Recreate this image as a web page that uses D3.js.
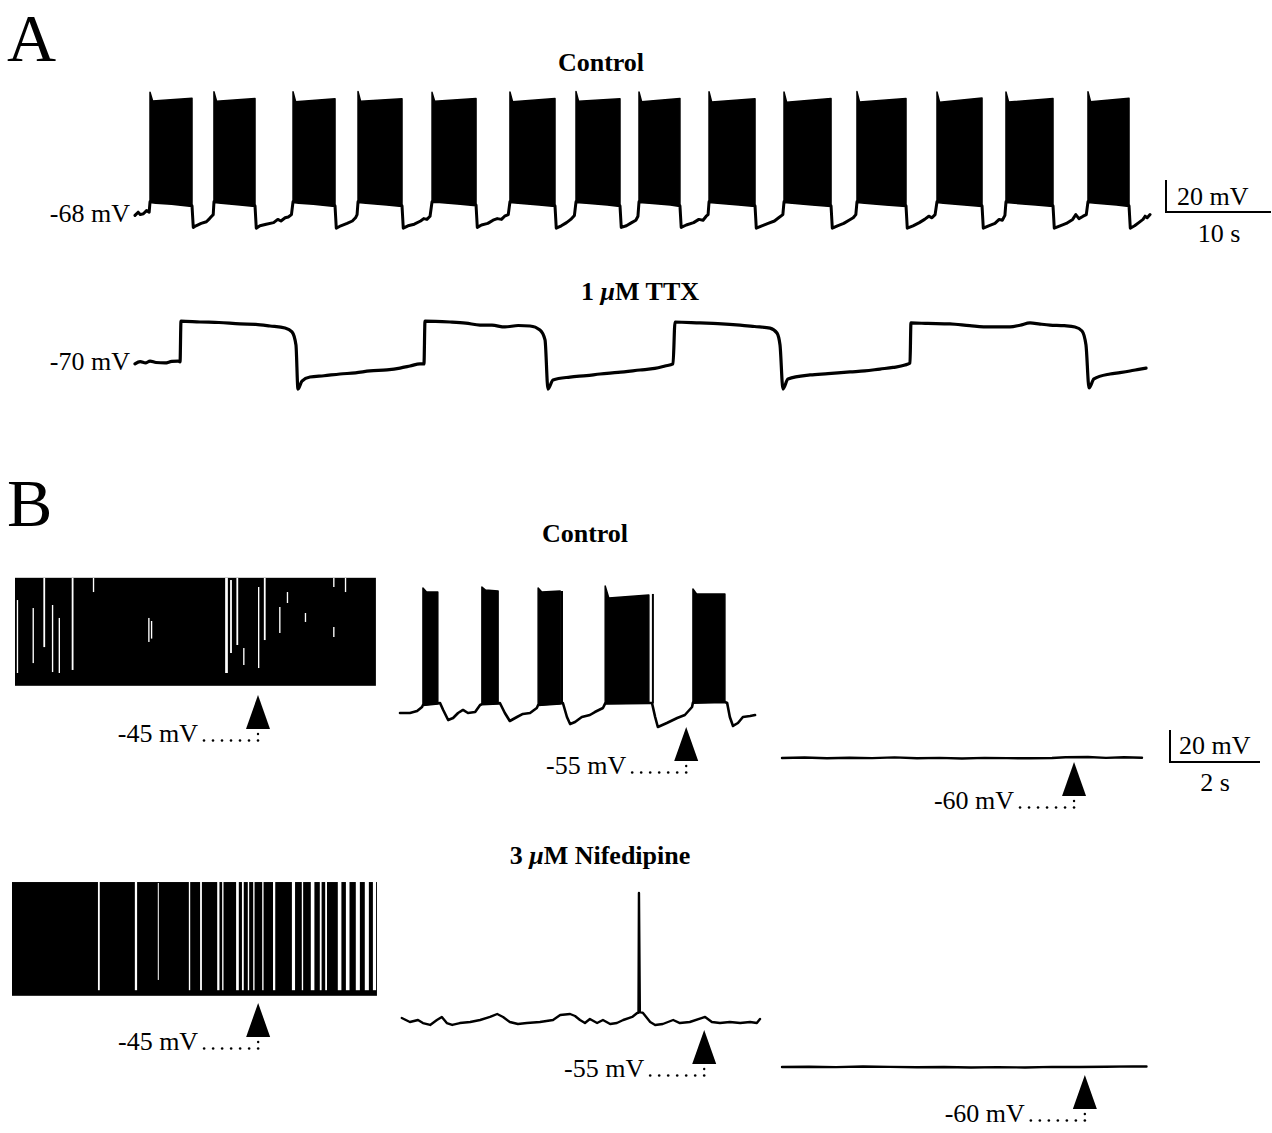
<!DOCTYPE html>
<html lang="en">
<head>
<meta charset="utf-8">
<title>Bursting traces</title>
<script src="https://d3js.org/d3.v7.min.js"></script>
<style>
  body { margin: 0; background: #fff; }
  text { font-family: "Liberation Serif", "Times New Roman", serif; fill: #000; }
</style>
</head>
<body>
<script>
// ---------- Panel A (time in s, membrane potential in mV) ----------
// bursts: [start, end, first spike peak, top after peak, top at end]
const ctrlA_bursts = [
  [1.43, 5.43, 7.5, 2.0, 3.7], [7.52, 11.43, 7.8, 1.8, 3.5], [15.05, 19.05, 7.8, 1.6, 3.4],
  [21.24, 25.43, 7.9, 1.8, 3.4], [28.29, 32.48, 7.4, 1.9, 3.6], [35.71, 40.0, 7.6, 1.6, 3.5],
  [42.0, 46.19, 7.9, 1.8, 3.4], [48.0, 51.9, 7.6, 1.5, 3.6], [54.67, 59.05, 7.8, 1.4, 3.4],
  [61.81, 66.29, 7.7, 1.2, 3.5], [68.76, 73.43, 7.9, 1.3, 3.6], [76.38, 80.67, 7.6, 1.2, 3.8],
  [82.95, 87.43, 7.7, 1.4, 3.5], [90.76, 94.67, 7.8, 1.6, 3.7]
];
// slow membrane potential (burst floor and interburst trough)
const ctrlA_trace = [
  [0,-69.5],[0.3,-67.5],[0.5,-69],[0.8,-68.5],[1.1,-66.5],[1.35,-67.5],[1.43,-61],
  [2.0,-61.5],[3.5,-62],[5.43,-63.5],[5.55,-77],[5.8,-76],[6.3,-74.5],[6.8,-73.5],[7.1,-71.5],[7.3,-70],[7.45,-69],[7.52,-61],
  [8.2,-61.5],[10,-62.5],[11.43,-63.5],[11.55,-77.5],[11.9,-76],[12.5,-75],[13.2,-74],[13.6,-72],[13.9,-73],[14.3,-71],[14.6,-70.5],[14.9,-69],[15.05,-61],
  [15.6,-61.5],[17,-62],[19.05,-63.5],[19.17,-77.5],[19.6,-76],[20.2,-74.5],[20.7,-73],[21.0,-71],[21.15,-69],[21.24,-61],
  [22,-61.5],[24,-62.5],[25.43,-63.5],[25.55,-77.5],[26,-76],[26.6,-75],[27.2,-73],[27.5,-71.5],[27.8,-72],[28.1,-70],[28.29,-61],
  [29,-61],[31,-62],[32.48,-63],[32.6,-77],[33,-75.5],[33.6,-74.5],[34.1,-72.5],[34.5,-71.5],[34.9,-72],[35.2,-70],[35.55,-69],[35.71,-61],
  [36.5,-61.5],[38.5,-62.5],[40.0,-63.5],[40.12,-77.5],[40.6,-76],[41.1,-74],[41.5,-72],[41.85,-69.5],[42.0,-61],
  [43,-61.5],[45,-62.5],[46.19,-63.5],[46.31,-77],[46.8,-76],[47.3,-74],[47.7,-72.5],[47.9,-70],[48.0,-61],
  [49,-61.5],[51,-62.5],[51.9,-63.5],[52.02,-77],[52.5,-75.5],[53.2,-74],[53.7,-72],[54.1,-72.5],[54.4,-70],[54.58,-69],[54.67,-61],
  [55.5,-61.5],[57.5,-62.5],[59.05,-63.5],[59.17,-77.5],[59.7,-76],[60.3,-74.5],[60.9,-73],[61.3,-71],[61.7,-69],[61.81,-61],
  [62.6,-61.5],[64.5,-62.5],[66.29,-63.5],[66.41,-77.5],[66.9,-76],[67.5,-74.5],[68,-72.5],[68.4,-71],[68.65,-69],[68.76,-61],
  [69.5,-61.5],[71.5,-62.5],[73.43,-63.5],[73.55,-77.5],[74.1,-76],[74.7,-74],[75.2,-72],[75.6,-70],[75.9,-71],[76.2,-69],[76.38,-61],
  [77,-61.5],[79,-62.5],[80.67,-63.5],[80.79,-77.5],[81.3,-76],[81.9,-74.5],[82.3,-72],[82.6,-72.5],[82.85,-69.5],[82.95,-61],
  [83.8,-61.5],[85.8,-62.5],[87.43,-63.5],[87.55,-77.5],[88.1,-76],[88.7,-74.5],[89.3,-72],[89.6,-69],[89.9,-71.5],[90.3,-70],[90.6,-69],[90.76,-61],
  [91.5,-61.5],[93.5,-62.5],[94.67,-63.5],[94.79,-77.5],[95.2,-76],[95.6,-74],[96.0,-72],[96.2,-70],[96.4,-71],[96.67,-69]
];
const ttx_trace = [
  [0,-71.2],[0.5,-69.8],[1.0,-70.6],[1.43,-69.4],[2.0,-70.3],[2.86,-70.6],[3.5,-69.6],[4.1,-69.4],[4.29,-70],
  [4.38,-44.4],[6.19,-45],[8,-45.3],[10,-46.2],[11.5,-46.5],[12.86,-47.5],[14.29,-48.8],[14.95,-51.2],[15.33,-59.4],
  [15.52,-86.9],[15.9,-81.9],[16.67,-79.4],[18,-78.6],[19.52,-77.5],[21,-76.8],[22.38,-75.6],[24,-74.9],[25.24,-73.8],[26.2,-72.5],[27.14,-71.2],[27.52,-71.2],
  [27.62,-44.4],[30,-45],[31.5,-45.7],[32.86,-46.9],[34,-47],[35.24,-48.1],[36.5,-47.2],[37.62,-47.5],[38.57,-50],[39.05,-56.2],
  [39.33,-86.9],[39.81,-81.2],[41.43,-79.4],[43,-78.5],[44.29,-77.5],[46,-76.5],[48.1,-75],[49.5,-74],[50.48,-72.5],[51.24,-71.2],
  [51.43,-45],[53.81,-45.6],[55.5,-46],[57.62,-46.9],[59,-47.8],[60.48,-48.8],[61.14,-51.9],[61.43,-59.4],
  [61.71,-86.9],[62.19,-80.6],[64.29,-78.1],[66,-77.3],[68.1,-76.2],[69.5,-75.6],[70.95,-74.4],[72.2,-73.4],[73.33,-71.9],[73.81,-70.6],
  [73.9,-45.6],[75.5,-45.9],[77.62,-46.2],[79.5,-47.3],[81.43,-48.1],[83.33,-48.1],[84.3,-47],[85.24,-45.6],[86.2,-46.3],[87.14,-46.9],[88.5,-47.3],[89.52,-48.1],[90.19,-50.6],[90.57,-59.4],
  [90.86,-86.2],[91.33,-80.6],[92.86,-77.5],[93.8,-76.6],[94.76,-75.6],[95.6,-74.6],[96.29,-73.8]
];

// ---------- Panel B ----------
// Control, left: continuous firing band [t start, t end], [bottom mV, top mV]
const ctrlBL_span = [0, 8.02];
const ctrlBL_band = [-45.5, 22];
// interspike gaps: [t, width s, upper mV, lower mV]
const ctrlBL_gaps = [
  [0.04,0.03,8.1,-37.5],[0.39,0.03,3.1,-31.3],[0.63,0.04,21.9,-21.3],[0.82,0.03,5,-36.9],
  [0.97,0.03,-3.1,-37.5],[1.26,0.04,21.9,-35.6],[1.73,0.03,21.9,13.1],[2.96,0.03,-3.1,-18.1],[3.02,0.03,-5,-16],
  [4.67,0.06,21.9,-37.5],[4.78,0.04,20.6,-25],[4.92,0.04,21.9,-20],[5.07,0.03,-21.9,-32.5],
  [5.4,0.03,16.25,-34.4],[5.53,0.04,21.9,-16.9],[5.87,0.03,3.75,-12.5],[6.04,0.03,13.1,6.25],
  [6.44,0.03,0,-5.6],[7.07,0.03,21.9,16.25],[7.07,0.03,-8.75,-15],[7.33,0.03,21.9,13.1]
];
// Control, middle
const ctrlBM_bursts = [
  [0.51,0.84,23.1,20.6,20.6],[1.82,2.18,23.75,21.9,21.25],[3.07,3.56,23.1,20.6,21.25],
  [4.56,5.53,24.4,16.9,18.75],[6.51,7.22,22.5,19.4,19.4]
];
const ctrlBM_spikes = [[3.6, 21.25], [5.62, 19.4]];
const ctrlBM_trace = [
  [0,-55],[0.22,-55],[0.38,-53.75],[0.49,-51.25],[0.51,-50],[0.84,-49],[0.89,-48.75],[0.96,-53.1],[1.07,-59.4],[1.18,-58.1],
  [1.29,-55],[1.4,-53.1],[1.51,-55],[1.67,-54.4],[1.78,-50],[1.82,-49.5],[2.18,-49],[2.22,-48.75],[2.33,-55],[2.44,-60],
  [2.6,-57.5],[2.73,-55.6],[2.89,-55],[3.04,-51.9],[3.07,-50],[3.56,-49],[3.62,-48.75],[3.71,-57.5],[3.78,-61.9],[3.89,-60.6],
  [4.04,-57.5],[4.22,-56.25],[4.33,-54.4],[4.51,-51.9],[4.56,-49],[5.53,-48.75],[5.6,-48.75],[5.67,-57.5],[5.73,-63.75],[5.93,-61.25],
  [6.16,-58.1],[6.33,-56.25],[6.49,-51.25],[6.51,-48.5],[7.22,-48.1],[7.27,-48.75],[7.33,-57.5],[7.4,-63.1],[7.51,-61.25],
  [7.62,-57.5],[7.78,-56.9],[7.89,-56.25]
];
// Control, right
const ctrlBR_trace = [
  [0,-60],[0.5,-59.7],[1,-60.2],[1.5,-59.8],[2,-60.1],[2.5,-59.6],[3,-60.2],[3.5,-59.9],[4,-60.3],
  [4.5,-59.9],[5,-60.1],[5.5,-60.2],[6,-60],[6.3,-59.5],[6.8,-59.4],[7.2,-59.9],[7.6,-59.5],[8,-59.8]
];
// Nifedipine, left
const nifBL_span = [0, 8.11];
const nifBL_band = [-45.5, 25.6];
const nifBL_gaps = [
  [1.91,0.04,26,-42],[2.73,0.05,26,-42],[3.24,0.02,25,-35.6],[3.93,0.03,26,-42],[4.18,0.04,26,-42],
  [4.56,0.05,26,-42],[4.67,0.03,26,-42],[4.98,0.06,26,-42],[5.11,0.04,26,-42],[5.24,0.03,26,-42],
  [5.36,0.03,26,-42],[5.56,0.03,26,-42],[5.8,0.05,26,-42],[6.22,0.07,26,-42],[6.44,0.03,26,-42],
  [6.64,0.08,26,-42],[6.84,0.04,26,-42],[6.96,0.04,26,-42],[7.24,0.08,26,-42],[7.42,0.08,26,-42],
  [7.64,0.09,26,-42],[7.84,0.09,26,-42],[8.02,0.07,26,-42]
];
// Nifedipine, middle (one spike)
const nifBM_trace = [
  [0.04,-53.75],[0.22,-56.25],[0.4,-55],[0.51,-56.9],[0.67,-58.1],[0.82,-55],[0.93,-53.1],[1.04,-56.9],[1.16,-58.1],
  [1.33,-56.9],[1.56,-56.25],[1.78,-55],[2.0,-53.1],[2.16,-51.25],[2.29,-53.1],[2.44,-56.25],[2.62,-57.5],[2.82,-56.9],
  [3.11,-56.25],[3.4,-55],[3.56,-51.9],[3.78,-51.25],[3.89,-52.5],[4.0,-55],[4.11,-56.9],[4.22,-54.4],[4.38,-56.9],
  [4.51,-55],[4.67,-57.5],[4.82,-56.9],[4.96,-55],[5.16,-53.1],[5.27,-50.6],[5.3,-50.5],[5.31,24.4],[5.33,-50],
  [5.4,-50.6],[5.56,-56.25],[5.67,-58.1],[5.84,-57.5],[6.07,-55],[6.22,-56.9],[6.44,-56.25],[6.78,-53.1],[6.93,-56.25],
  [7.11,-56.9],[7.33,-56.25],[7.56,-56.9],[7.78,-56.25],[7.93,-56.9],[8.0,-54.4]
];
// Nifedipine, right
const nifBR_trace = [
  [0,-60],[0.6,-59.8],[1.2,-60.1],[1.8,-59.7],[2.4,-59.9],[3,-60.2],[3.6,-60],[4.2,-60.3],
  [4.8,-60.1],[5.4,-60.3],[6,-59.9],[6.6,-60],[7.2,-59.8],[7.8,-59.6],[8.1,-59.7]
];
// arrows (time in s) and level labels
const ctrlB_arrows = [5.4, 6.36, 6.49];
const nifB_arrows = [5.47, 6.76, 6.73];
const levelLabels = ["-45 mV", "-55 mV", "-60 mV"];

// ---------- drawing ----------
const W = 1272, H = 1133;
const pxPerMV = 1.6;
const svg = d3.select(document.body).append('svg').attr('width', W).attr('height', H);
svg.append('rect').attr('width', W).attr('height', H).attr('fill', '#fff');

function yScale(refMV, yPx) {
  return d3.scaleLinear().domain([refMV, refMV + 10]).range([yPx, yPx - 10 * pxPerMV]);
}
function xScale(x0, pxPerS) {
  return d3.scaleLinear().domain([0, 10]).range([x0, x0 + 10 * pxPerS]);
}
function drawTrace(pts, x, y, w, curve) {
  svg.append('path').datum(pts)
    .attr('d', d3.line().curve(curve || d3.curveLinear).x(d => x(d[0])).y(d => y(d[1])))
    .attr('fill', 'none').attr('stroke', '#000')
    .attr('stroke-width', w).attr('stroke-linejoin', 'round').attr('stroke-linecap', 'round');
}
function drawBursts(bursts, trace, x, y, decay) {
  const line = d3.line().x(d => x(d[0])).y(d => y(d[1]));
  bursts.forEach(b => {
    const [t0, t1, pk, a, c] = b;
    const floor = trace.filter(p => p[0] >= t0 - 0.001 && p[0] <= t1 + 0.001).reverse();
    const poly = [[t0, pk], [t0 + decay, a], [t1, c]].concat(floor);
    svg.append('path').attr('d', line(poly) + 'Z')
      .attr('fill', '#000').attr('stroke', '#000').attr('stroke-width', 1.5).attr('stroke-linejoin', 'round');
  });
}
function drawBand(span, band, gaps, x, y) {
  svg.append('rect')
    .attr('x', x(span[0])).attr('width', x(span[1]) - x(span[0]))
    .attr('y', y(band[1])).attr('height', y(band[0]) - y(band[1]))
    .attr('fill', '#000');
  svg.selectAll(null).data(gaps).enter().append('rect')
    .attr('x', d => x(d[0])).attr('width', d => Math.max(1, x(d[0] + d[1]) - x(d[0])))
    .attr('y', d => y(d[2])).attr('height', d => y(d[3]) - y(d[2]))
    .attr('fill', '#fff');
}
function drawArrow(t, x, tipY, label) {
  const ax = x(t), base = tipY + 34;
  svg.append('path').attr('d', `M${ax - 12},${base}L${ax},${tipY}L${ax + 12},${base}Z`).attr('fill', '#000');
  const tb = base + 13;
  svg.append('text').attr('x', ax - 60).attr('y', tb).attr('text-anchor', 'end')
    .attr('font-size', 26).text(label);
  svg.selectAll(null).data(d3.range(7)).enter().append('circle')
    .attr('cx', i => ax - 54 + i * 9).attr('cy', tb - 1.5).attr('r', 1.3).attr('fill', '#000');
  svg.append('circle').attr('cx', ax).attr('cy', tb - 8).attr('r', 1.2).attr('fill', '#000');
}
function title(x, y) {
  return svg.append('text').attr('x', x).attr('y', y).attr('text-anchor', 'middle')
    .attr('font-size', 26).attr('font-weight', 'bold');
}

// panel letters
svg.append('text').attr('x', 7).attr('y', 61).attr('font-size', 68).text('A');
svg.append('text').attr('x', 7).attr('y', 526).attr('font-size', 68).text('B');

// ----- A -----
const xA = xScale(135, 10.5);
const yAc = yScale(-68, 213);
const yAt = yScale(-70, 362);
title(601, 71).text('Control');
drawTrace(ctrlA_trace, xA, yAc, 3);
drawBursts(ctrlA_bursts, ctrlA_trace, xA, yAc, 0.25);
svg.append('text').attr('x', 130).attr('y', 222).attr('text-anchor', 'end').attr('font-size', 26).text('-68 mV');

const ttxT = title(640, 300);
ttxT.append('tspan').text('1 ');
ttxT.append('tspan').attr('font-style', 'italic').text('μ');
ttxT.append('tspan').text('M TTX');
drawTrace(ttx_trace, xA, yAt, 3.2, d3.curveMonotoneX);
svg.append('text').attr('x', 130).attr('y', 370).attr('text-anchor', 'end').attr('font-size', 26).text('-70 mV');

// scale bar A
const sbA = { x: 1166, y: 212 };
svg.append('path')
  .attr('d', `M${sbA.x},${sbA.y - 20 * pxPerMV}V${sbA.y}H${sbA.x + xA(10) - xA(0)}`)
  .attr('fill', 'none').attr('stroke', '#000').attr('stroke-width', 2);
svg.append('text').attr('x', 1177).attr('y', 205).attr('font-size', 26).text('20 mV');
svg.append('text').attr('x', 1219).attr('y', 242).attr('text-anchor', 'middle').attr('font-size', 26).text('10 s');

// ----- B -----
const pxPerSB = 45;
title(585, 542).text('Control');
const nifT = title(600, 864);
nifT.append('tspan').text('3 ');
nifT.append('tspan').attr('font-style', 'italic').text('μ');
nifT.append('tspan').text('M Nifedipine');

// control row
const xCL = xScale(15, pxPerSB), yCL = yScale(-45, 685);
drawBand(ctrlBL_span, ctrlBL_band, ctrlBL_gaps, xCL, yCL);
drawArrow(ctrlB_arrows[0], xCL, 695, levelLabels[0]);

const xCM = xScale(400, pxPerSB), yCM = yScale(-55, 713);
drawTrace(ctrlBM_trace, xCM, yCM, 2.6);
drawBursts(ctrlBM_bursts, ctrlBM_trace, xCM, yCM, 0.08);
svg.selectAll(null).data(ctrlBM_spikes).enter().append('line')
  .attr('x1', d => xCM(d[0])).attr('x2', d => xCM(d[0]))
  .attr('y1', yCM(-49)).attr('y2', d => yCM(d[1]))
  .attr('stroke', '#000').attr('stroke-width', 2);
drawArrow(ctrlB_arrows[1], xCM, 727, levelLabels[1]);

const xCR = xScale(782, pxPerSB), yCR = yScale(-60, 758);
drawTrace(ctrlBR_trace, xCR, yCR, 2.4);
drawArrow(ctrlB_arrows[2], xCR, 762, levelLabels[2]);

// scale bar B
const sbB = { x: 1170, y: 762 };
svg.append('path')
  .attr('d', `M${sbB.x},${sbB.y - 20 * pxPerMV}V${sbB.y}H${sbB.x + 2 * pxPerSB}`)
  .attr('fill', 'none').attr('stroke', '#000').attr('stroke-width', 2);
svg.append('text').attr('x', 1179).attr('y', 754).attr('font-size', 26).text('20 mV');
svg.append('text').attr('x', 1215).attr('y', 791).attr('text-anchor', 'middle').attr('font-size', 26).text('2 s');

// nifedipine row
const xNL = xScale(12, pxPerSB), yNL = yScale(-45, 995);
drawBand(nifBL_span, nifBL_band, nifBL_gaps, xNL, yNL);
drawArrow(nifB_arrows[0], xNL, 1003, levelLabels[0]);

const xNM = xScale(400, pxPerSB), yNM = yScale(-55, 1020);
drawTrace(nifBM_trace, xNM, yNM, 2.4);
drawArrow(nifB_arrows[1], xNM, 1030, levelLabels[1]);

const xNR = xScale(782, pxPerSB), yNR = yScale(-60, 1067);
drawTrace(nifBR_trace, xNR, yNR, 2.4);
drawArrow(nifB_arrows[2], xNR, 1075, levelLabels[2]);
</script>
</body>
</html>
